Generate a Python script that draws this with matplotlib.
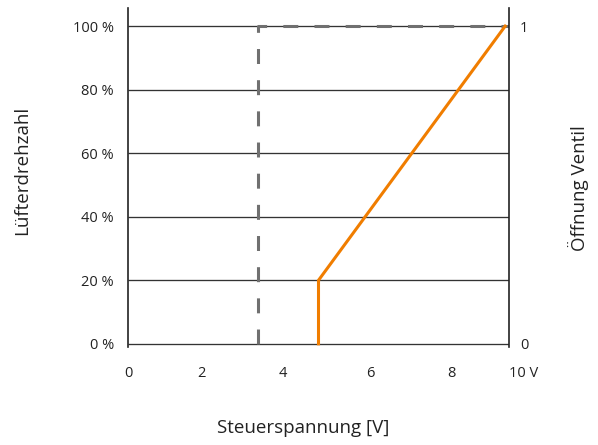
import matplotlib
matplotlib.use("Agg")
import matplotlib.pyplot as plt

plt.rcParams['font.family'] = ['Open Sans', 'DejaVu Sans']

# data
dashed_x = [3.4, 3.4, 10.0]
dashed_y = [0, 100, 100]
orange_x = [5.0, 5.0, 9.9]
orange_y = [0, 20, 100]
y_ticks = [0, 20, 40, 60, 80, 100]
y_tick_labels = ["0 %", "20 %", "40 %", "60 %", "80 %", "100 %"]
x_tick_pos = [0, 1.92, 4.07, 6.35, 8.5]
x_tick_labels = ["0", "2", "4", "6", "8"]
right_labels = ["0", "1"]

fig = plt.figure(figsize=(5.98, 4.45), dpi=100)
ax = fig.add_axes([128/598, 1-347/445, (509-128)/598, (347-8)/445])
ax.set_xlim(0, 10)
ax.set_ylim(-1, 105.7)

txt = '#222222'
for yv in y_ticks:
    ax.plot([0, 10], [yv, yv], color='#333333', lw=0.95, zorder=1, solid_capstyle='butt')

ax.plot(dashed_x, dashed_y, color='#707070', lw=2.2, linestyle=(0, (4.9, 5.3)),
        zorder=2, solid_joinstyle='miter')
ax.plot(orange_x, orange_y, color='#f07d00', lw=2.2, zorder=3, solid_joinstyle='miter')

for s in ['top', 'bottom']:
    ax.spines[s].set_visible(False)
for s in ['left', 'right']:
    ax.spines[s].set_linewidth(1.2)
    ax.spines[s].set_color('#222222')

ax.set_yticks(y_ticks)
ax.set_yticklabels(y_tick_labels, fontsize=10.5, color=txt)
ax.tick_params(axis='y', length=0, pad=10)

ax.set_xticks(x_tick_pos + [10])
ax.set_xticklabels(x_tick_labels + ["10 V"], fontsize=10.5, color=txt)
ax.tick_params(axis='x', length=0, pad=14)
ax.get_xticklabels()[-1].set_horizontalalignment('left')

ax2 = ax.twinx()
ax2.set_ylim(ax.get_ylim())
ax2.set_yticks([0, 100])
ax2.set_yticklabels(right_labels, fontsize=10.5, color=txt)
ax2.tick_params(axis='y', length=0, pad=8)
for s in ['top', 'bottom', 'left', 'right']:
    ax2.spines[s].set_visible(False)

fig.text(303/598, 1-428/445, "Steuerspannung [V]", fontsize=13.5, color=txt,
         ha='center', va='center')
fig.text(22/598, 1-170/445, "Lüfterdrehzahl", fontsize=13.5, color=txt,
         ha='center', va='center', rotation=90)
fig.text(578/598, 1-188/445, "Öffnung Ventil", fontsize=13.5, color=txt,
         ha='center', va='center', rotation=90)

fig.savefig("out.png", dpi=100)
